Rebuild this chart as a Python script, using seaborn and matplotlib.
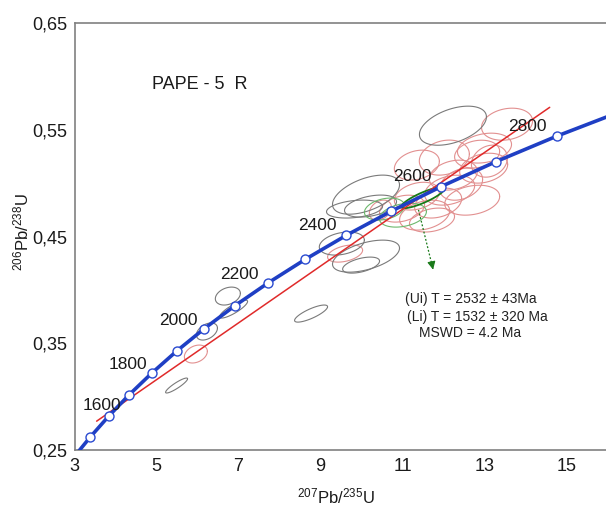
import numpy as np
import pandas as pd
import seaborn as sns
import matplotlib.pyplot as plt
from matplotlib.ticker import MultipleLocator, FuncFormatter

# Concordia reference points (Ma)
ages = [1400, 1500, 1600, 1700, 1800, 1900, 2000, 2100, 2200, 2300, 2400, 2500, 2600, 2700, 2800, 2900]
pb207_u235 = [2.970, 3.381, 3.834, 4.335, 4.887, 5.496, 6.169, 6.910, 7.729, 8.633,
              9.630, 10.730, 11.944, 13.283, 14.762, 16.393]
pb206_u238 = [0.2426, 0.2620, 0.2817, 0.3018, 0.3221, 0.3428, 0.3638, 0.3851, 0.4067, 0.4287,
              0.4511, 0.4738, 0.4968, 0.5202, 0.5440, 0.5681]
labelled_ages = [1600, 1800, 2000, 2200, 2400, 2600, 2800]

# discordia end points
disc_x = [3.54, 14.59]
disc_y = [0.277, 0.571]

# analyses: centre, half extent in x and y, error correlation
gray_cx = [12.23, 10.11, 10.22, 9.52, 10.11, 9.83, 6.74, 6.88, 6.23, 5.49, 8.77, 9.99]
gray_cy = [0.5538, 0.4892, 0.4785, 0.4434, 0.4316, 0.4757, 0.3942, 0.3820, 0.3610, 0.3104, 0.3778, 0.4232]
gray_sx = [0.817, 0.817, 0.634, 0.549, 0.817, 0.683, 0.305, 0.341, 0.256, 0.268, 0.402, 0.45]
gray_sy = [0.0183, 0.0183, 0.0103, 0.0108, 0.0150, 0.0084, 0.0084, 0.0084, 0.0080, 0.0070, 0.0080, 0.0075]
gray_rho = [0.45, 0.5, 0.4, 0.3, 0.5, 0.3, 0.3, 0.85, 0.4, 0.9, 0.8, 0.5]

red_cx = [13.55, 13.00, 13.12, 12.98, 12.43, 12.70, 12.15, 11.87, 11.54, 11.35, 10.99, 12.24,
          12.82, 11.72, 10.46, 9.60, 5.96, 11.35, 12.02]
red_cy = [0.5552, 0.5328, 0.5206, 0.5140, 0.4990, 0.4840, 0.4934, 0.4813, 0.4700, 0.4878, 0.4761, 0.5075,
          0.5272, 0.4654, 0.4747, 0.4340, 0.3399, 0.5169, 0.5239]
red_sx = [0.622, 0.659, 0.439, 0.585, 0.524, 0.670, 0.610, 0.573, 0.610, 0.549, 0.549, 0.585,
          0.549, 0.549, 0.268, 0.427, 0.280, 0.549, 0.610]
red_sy = [0.0150, 0.0140, 0.0150, 0.0140, 0.0150, 0.0140, 0.0140, 0.0140, 0.0140, 0.0130, 0.0126, 0.0140,
          0.0130, 0.0112, 0.0094, 0.0080, 0.0084, 0.0140, 0.0164]
red_rho = [0.2, 0.25, 0.2, 0.25, 0.3, 0.25, 0.3, 0.3, 0.3, 0.3, 0.3, 0.25,
           0.2, 0.3, 0.3, 0.4, 0.3, 0.25, 0.2]

green_cx = [10.56, 11.01]
green_cy = [0.4757, 0.4700]
green_sx = [0.488, 0.573]
green_sy = [0.0103, 0.0112]
green_rho = [0.3, 0.3]

mean_ellipse = (11.50, 0.4864, 0.524, 0.0098, 0.85)

sns.set_theme(style='white')
plt.rcParams['font.family'] = ['Liberation Sans', 'DejaVu Sans']
plt.rcParams['mathtext.fontset'] = 'custom'
plt.rcParams['mathtext.rm'] = 'Liberation Sans'
plt.rcParams['mathtext.it'] = 'Liberation Sans:italic'
plt.rcParams['mathtext.bf'] = 'Liberation Sans:bold'

fig = plt.figure(figsize=(6.06, 5.05), dpi=100)
ax = fig.add_axes([74.5 / 606, 55 / 505, 533 / 606, 427 / 505])

t = np.linspace(0, 2 * np.pi, 120)

def draw_ellipse(cx, cy, sx, sy, rho, color, lw):
    ex = cx + sx * np.cos(t)
    ey = cy + sy * (rho * np.cos(t) + np.sqrt(1 - rho ** 2) * np.sin(t))
    ax.plot(ex, ey, color=color, lw=lw, zorder=2)

for e in zip(red_cx, red_cy, red_sx, red_sy, red_rho):
    draw_ellipse(*e, color='#e29090', lw=0.8)
for e in zip(gray_cx, gray_cy, gray_sx, gray_sy, gray_rho):
    draw_ellipse(*e, color='#7a7a7a', lw=0.8)
for e in zip(green_cx, green_cy, green_sx, green_sy, green_rho):
    draw_ellipse(*e, color='#6cb86c', lw=0.8)
draw_ellipse(*mean_ellipse, color='#167a16', lw=1.3)

conc = pd.DataFrame({'age': ages, 'x': pb207_u235, 'y': pb206_u238})
disc = pd.DataFrame({'x': disc_x, 'y': disc_y})

sns.lineplot(data=disc, x='x', y='y', color='#e02a2a', lw=1.1, sort=False, ax=ax, zorder=3)
sns.lineplot(data=conc, x='x', y='y', color='#1f3fc4', lw=2.6, sort=False, ax=ax, zorder=4)
marks = conc[(conc['age'] >= 1500) & (conc['age'] <= 2800)]
ax.scatter(marks['x'], marks['y'], s=42, facecolor='white', edgecolor='#2a4ad0',
           linewidth=1.0, zorder=5)

label_offsets = {1600: (-5, 8), 1800: (-17, 6), 2000: (-19, 6), 2200: (-21, 6),
                 2400: (-21, 7), 2600: (-21, 7), 2800: (-21, 7)}
for age in labelled_ages:
    row = conc[conc['age'] == age].iloc[0]
    ax.annotate(str(age), (row['x'], row['y']), xytext=label_offsets[age],
                textcoords='offset points', ha='center', va='center',
                fontsize=12.5, color='#1a1a1a', zorder=6)

# green arrow toward the intercept text
ax.plot([11.39, 11.74], [0.475, 0.420], color='#1a7a1a', lw=0.9, ls=(0, (1.5, 1.5)), zorder=6)
ax.annotate('', xy=(11.76, 0.4164), xytext=(11.72, 0.4236),
            arrowprops=dict(arrowstyle='-|>', color='#1a7a1a', mutation_scale=12, lw=0.8), zorder=6)

ax.text(11.05, 0.3914, '(Ui) T = 2532 \u00b1 43Ma', fontsize=10, va='center', color='#222222')
ax.text(11.12, 0.3745, '(Li) T = 1532 \u00b1 320 Ma', fontsize=10, va='center', color='#222222')
ax.text(11.41, 0.3596, 'MSWD = 4.2 Ma', fontsize=10, va='center', color='#222222')

ax.text(0.146, 0.855, 'PAPE - 5  R', transform=ax.transAxes, fontsize=13, va='center', color='#1a1a1a')

ax.set_xlim(3, 16)
ax.set_ylim(0.25, 0.65)
ax.xaxis.set_major_locator(MultipleLocator(2, offset=1))
ax.xaxis.set_minor_locator(MultipleLocator(1))
ax.yaxis.set_major_locator(MultipleLocator(0.1, offset=0.05))
ax.yaxis.set_minor_locator(MultipleLocator(0.05))
ax.yaxis.set_major_formatter(FuncFormatter(lambda v, _: f'{v:.2f}'.replace('.', ',')))
ax.tick_params(which='both', direction='in', color='#808080', labelsize=13, labelcolor='#1a1a1a')
ax.tick_params(which='major', length=4)
ax.tick_params(which='minor', length=4)
ax.tick_params(axis='x', pad=6)
ax.tick_params(axis='y', pad=5)
for s in ax.spines.values():
    s.set_color('#808080')
    s.set_linewidth(1.2)

ax.set_xlabel('')
ax.set_ylabel('')
ax.text(0.49, -0.108, r'$^{207}\mathregular{Pb/}^{235}\mathregular{U}$', transform=ax.transAxes,
        ha='center', va='center', fontsize=12, color='#1a1a1a')
ax.text(-0.100, 0.51, r'$^{206}\mathregular{Pb/}^{238}\mathregular{U}$', transform=ax.transAxes,
        ha='center', va='center', rotation=90, fontsize=12, color='#1a1a1a')

fig.savefig('out.png', dpi=100)
